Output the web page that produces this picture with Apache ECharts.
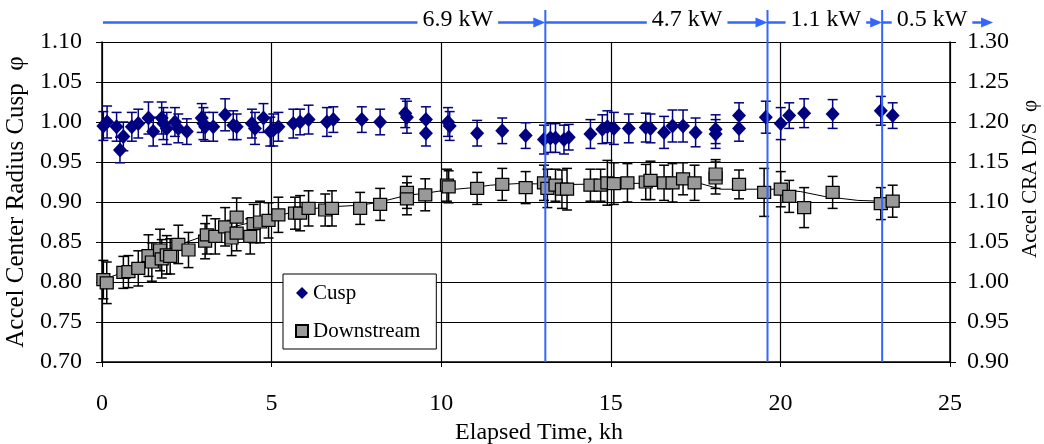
<!DOCTYPE html>
<html><head><meta charset="utf-8">
<script src="https://cdn.jsdelivr.net/npm/echarts@6/dist/echarts.min.js"></script>
<style>html,body{margin:0;padding:0;background:#fff}#c{width:1044px;height:444px}</style>
</head><body><div id="c"></div>
<script>
// Cusp (left axis)
const cuspX = [0.04,0.15,0.43,0.53,0.63,0.88,1.07,1.37,1.51,1.76,1.81,1.91,2.15,2.25,2.5,2.94,2.99,3.04,3.28,3.63,3.87,3.97,4.42,4.51,4.76,4.96,5.05,5.2,5.64,5.84,6.09,6.63,6.82,7.66,8.2,8.94,8.99,9.55,9.55,10.2,10.25,11.06,11.8,12.49,13.03,13.22,13.37,13.62,13.76,14.4,14.75,14.9,15.09,15.53,16.03,16.17,16.57,16.82,17.13,17.5,18.09,18.09,18.78,18.78,19.57,20.01,20.26,20.7,21.54,22.96,23.31];
const cuspY = [0.995,1.0,0.994,0.965,0.982,0.994,0.998,1.005,0.988,1.005,0.998,0.992,1.0,0.992,0.988,1.005,0.998,0.994,0.994,1.009,0.996,0.994,0.998,0.992,1.005,0.988,0.99,0.994,0.998,1.0,1.003,1.0,1.003,1.003,1.0,1.011,1.006,1.003,0.986,1.0,0.995,0.986,0.989,0.983,0.978,0.98,0.98,0.978,0.981,0.985,0.991,0.994,0.992,0.992,0.993,0.992,0.987,0.995,0.995,0.987,0.991,0.985,1.008,0.992,1.006,0.998,1.008,1.011,1.01,1.014,1.008];
const cuspErr = [0.018,0.02,0.018,0.016,0.018,0.018,0.018,0.02,0.018,0.02,0.02,0.02,0.018,0.018,0.016,0.018,0.02,0.018,0.018,0.02,0.018,0.016,0.018,0.02,0.018,0.018,0.02,0.018,0.018,0.016,0.018,0.018,0.016,0.016,0.016,0.018,0.02,0.016,0.016,0.018,0.018,0.016,0.016,0.016,0.018,0.018,0.018,0.018,0.016,0.018,0.018,0.02,0.02,0.018,0.018,0.018,0.02,0.02,0.02,0.018,0.018,0.018,0.016,0.016,0.02,0.02,0.016,0.018,0.018,0.018,0.016];
// Downstream (right axis)
const dsX = [0.04,0.14,0.63,0.78,1.07,1.37,1.47,1.71,1.76,1.91,2.01,2.25,2.55,3.04,3.09,3.34,3.63,3.82,3.97,3.97,4.37,4.47,4.66,4.91,5.2,5.69,5.84,6.09,6.58,6.78,7.61,8.2,8.99,8.99,9.53,10.17,10.22,11.06,11.8,12.49,13.03,13.13,13.37,13.56,13.71,14.4,14.7,14.9,15.09,15.49,16.03,16.17,16.57,16.82,17.13,17.47,18.09,18.09,18.78,19.52,20.01,20.26,20.7,21.54,22.96,23.31];
const dsY = [1.003,0.999,1.012,1.013,1.017,1.033,1.025,1.04,1.029,1.034,1.032,1.047,1.04,1.051,1.059,1.057,1.069,1.055,1.081,1.061,1.057,1.073,1.075,1.077,1.084,1.086,1.086,1.092,1.09,1.092,1.092,1.097,1.112,1.104,1.109,1.121,1.119,1.117,1.122,1.118,1.124,1.117,1.121,1.116,1.116,1.121,1.121,1.124,1.123,1.124,1.125,1.127,1.124,1.124,1.129,1.124,1.13,1.135,1.122,1.112,1.116,1.107,1.093,1.112,1.098,1.101];
const dsErr = [0.024,0.026,0.02,0.02,0.022,0.026,0.024,0.026,0.024,0.024,0.022,0.024,0.022,0.022,0.024,0.022,0.024,0.022,0.024,0.022,0.022,0.024,0.026,0.022,0.022,0.02,0.022,0.022,0.02,0.022,0.02,0.02,0.02,0.02,0.02,0.02,0.02,0.02,0.02,0.02,0.022,0.024,0.02,0.024,0.026,0.02,0.02,0.028,0.026,0.024,0.022,0.024,0.022,0.024,0.02,0.022,0.02,0.018,0.018,0.03,0.022,0.02,0.025,0.02,0.02,0.02];
// Smoothed trend through downstream (right axis)
const trendX = [0.1,0.62,1.36,2.24,3.04,3.96,5.05,5.84,6.73,7.62,8.2,8.94,9.53,10.17,10.95,11.45,12.24,13.91,15.49,16.37,17.65,18.24,18.83,19.81,20.6,21.29,22.28,22.96,23.3];
const trendY = [1.004,1.012,1.03,1.046,1.058,1.07,1.081,1.09,1.094,1.096,1.1,1.108,1.111,1.115,1.118,1.121,1.123,1.122,1.123,1.124,1.123,1.116,1.116,1.116,1.113,1.107,1.102,1.101,1.104];
// Power phases (kh)
const phaseLabels = ['6.9 kW','4.7 kW','1.1 kW','0.5 kW'];
const phaseStart = [0, 13.07, 19.62, 23.0];
const phaseEnd = [13.07, 19.62, 23.0, 26.27];
const phaseLabelAt = [10.49, 17.25, 21.34, 24.47];
const phaseDividers = [13.07, 19.62, 23.0];

const FONT = '"Liberation Serif", "Times New Roman", serif';
const BLUE = '#3366ff';
const NAVY = '#000080';

const mctx = document.createElement('canvas').getContext('2d');
function tw(t, size){ mctx.font = size + 'px ' + FONT; return mctx.measureText(t).width; }

function errRender(color){
  return function(params, api){
    const x = api.value(0), lo = api.value(1), hi = api.value(2);
    const p1 = api.coord([x, hi]); const p2 = api.coord([x, lo]);
    const cw = 5;
    const st = {stroke: color, lineWidth: 1.5};
    return {type:'group', children:[
      {type:'line', shape:{x1:p1[0],y1:p1[1],x2:p2[0],y2:p2[1]}, style:st},
      {type:'line', shape:{x1:p1[0]-cw,y1:p1[1],x2:p1[0]+cw,y2:p1[1]}, style:st},
      {type:'line', shape:{x1:p2[0]-cw,y1:p2[1],x2:p2[0]+cw,y2:p2[1]}, style:st}
    ]};
  };
}

const cuspData = cuspX.map((x,i)=>[x, cuspY[i]]);
const cuspErrData = cuspX.map((x,i)=>[x, cuspY[i]-cuspErr[i], cuspY[i]+cuspErr[i]]);
const dsData = dsX.map((x,i)=>[x, dsY[i]]);
const dsErrData = dsX.map((x,i)=>[x, dsY[i]-dsErr[i], dsY[i]+dsErr[i]]);
const trendData = trendX.map((x,i)=>[x, trendY[i]]);
const phaseData = phaseLabels.map((l,i)=>[phaseStart[i], phaseEnd[i], phaseLabelAt[i]]);
const dividerData = phaseDividers.map(x=>[x]);

const LBL = 24;
const chart = echarts.init(document.getElementById('c'), null, {renderer:'canvas'});
chart.setOption({
  animation:false,
  backgroundColor:'#fff',
  grid:{left:102, right:94, top:42, bottom:82, containLabel:false, outerBoundsMode:'none'},
  legend:{
    left:283, top:274, orient:'vertical',
    data:['Cusp','Downstream'],
    backgroundColor:'#fff', borderColor:'#000', borderWidth:1,
    padding:[7,16,6,12], itemGap:14, itemWidth:12, itemHeight:12,
    textStyle:{fontFamily:FONT, fontSize:21, color:'#000', lineHeight:24}
  },
  xAxis:{
    type:'value', min:0, max:25, interval:5,
    name:'Elapsed Time, kh', nameLocation:'middle', nameGap:56,
    nameTextStyle:{fontFamily:FONT, fontSize:24, color:'#000', padding:[0,0,0,26]},
    axisLine:{lineStyle:{color:'#000', width:1.5}},
    axisTick:{show:true, length:5, lineStyle:{color:'#000'}},
    axisLabel:{fontFamily:FONT, fontSize:LBL, color:'#000', margin:30},
    splitLine:{show:true, lineStyle:{color:'#000', width:1.2}}
  },
  yAxis:[{
    type:'value', min:0.7, max:1.1, interval:0.05,
    name:'Accel Center Radius Cusp  \u03c6', nameLocation:'middle', nameGap:70, nameRotate:90,
    nameTextStyle:{fontFamily:FONT, fontSize:25, color:'#000'},
    axisLine:{show:true, lineStyle:{color:'#000', width:1.5}},
    axisTick:{show:true, length:6, lineStyle:{color:'#000'}},
    axisLabel:{fontFamily:FONT, fontSize:LBL, color:'#000', margin:20, formatter:v=>v.toFixed(2)},
    splitLine:{show:true, lineStyle:{color:'#000', width:1.2}}
  },{
    type:'value', min:0.9, max:1.3, interval:0.05, position:'right',
    axisLine:{show:true, lineStyle:{color:'#000', width:1.5}},
    axisTick:{show:true, length:6, lineStyle:{color:'#000'}},
    axisLabel:{fontFamily:FONT, fontSize:LBL, color:'#000', margin:17, formatter:v=>v.toFixed(2)},
    splitLine:{show:false}
  }],
  graphic:[{
    type:'text', left:1020, top:100, rotation:Math.PI/2,
    style:{text:'Accel CRA D/S  \u03c6', fontFamily:FONT, fontSize:21, fill:'#000'}
  }],
  series:[
    {type:'line', name:'trend', data:trendData, yAxisIndex:1, showSymbol:false, symbol:'none',
      lineStyle:{color:'#000', width:1}, z:2, silent:true},
    {type:'custom', name:'dsErr', data:dsErrData, yAxisIndex:1, renderItem:errRender('#000'), z:3},
    {type:'custom', name:'cuspErr', data:cuspErrData, yAxisIndex:0, renderItem:errRender(NAVY), z:3},
    {type:'scatter', name:'Downstream', data:dsData, yAxisIndex:1, symbol:'rect', symbolSize:[13,12],
      itemStyle:{color:'#999999', borderColor:'#000', borderWidth:1.2, opacity:1}, z:4},
    {type:'scatter', name:'Cusp', data:cuspData, yAxisIndex:0, symbol:'diamond', symbolSize:[14,15],
      itemStyle:{color:NAVY, opacity:1}, z:5},
    {type:'custom', name:'dividers', data:dividerData, yAxisIndex:0, clip:false, z:6,
      renderItem:function(params, api){
        const b = api.coord([api.value(0), 0.7]);
        return {type:'line', shape:{x1:b[0], y1:10, x2:b[0], y2:b[1]}, style:{stroke:BLUE, lineWidth:2}};
      }},
    {type:'custom', name:'phases', data:phaseData, yAxisIndex:0, clip:false, z:6,
      renderItem:function(params, api){
        const i = params.dataIndex;
        const s = api.coord([api.value(0), 1.1])[0] + (i===0?1:0);
        const e = api.coord([api.value(1), 1.1])[0];
        const c = api.coord([api.value(2), 1.1])[0];
        const label = phaseLabels[i];
        const h = tw(label, 24)/2;
        const y = 22.5;
        const ls = {stroke:BLUE, lineWidth:2.5};
        return {type:'group', children:[
          {type:'line', shape:{x1:s, y1:y, x2:c-h-5, y2:y}, style:ls},
          {type:'text', x:c, y:y-3, style:{text:label, fontFamily:FONT, fontSize:24, fill:'#000', align:'center', verticalAlign:'middle'}},
          {type:'line', shape:{x1:c+h+5, y1:y, x2:e-10, y2:y}, style:ls},
          {type:'polygon', shape:{points:[[e-12,y-5],[e,y],[e-12,y+5]]}, style:{fill:BLUE}}
        ]};
      }}
  ]
});
</script></body></html>
